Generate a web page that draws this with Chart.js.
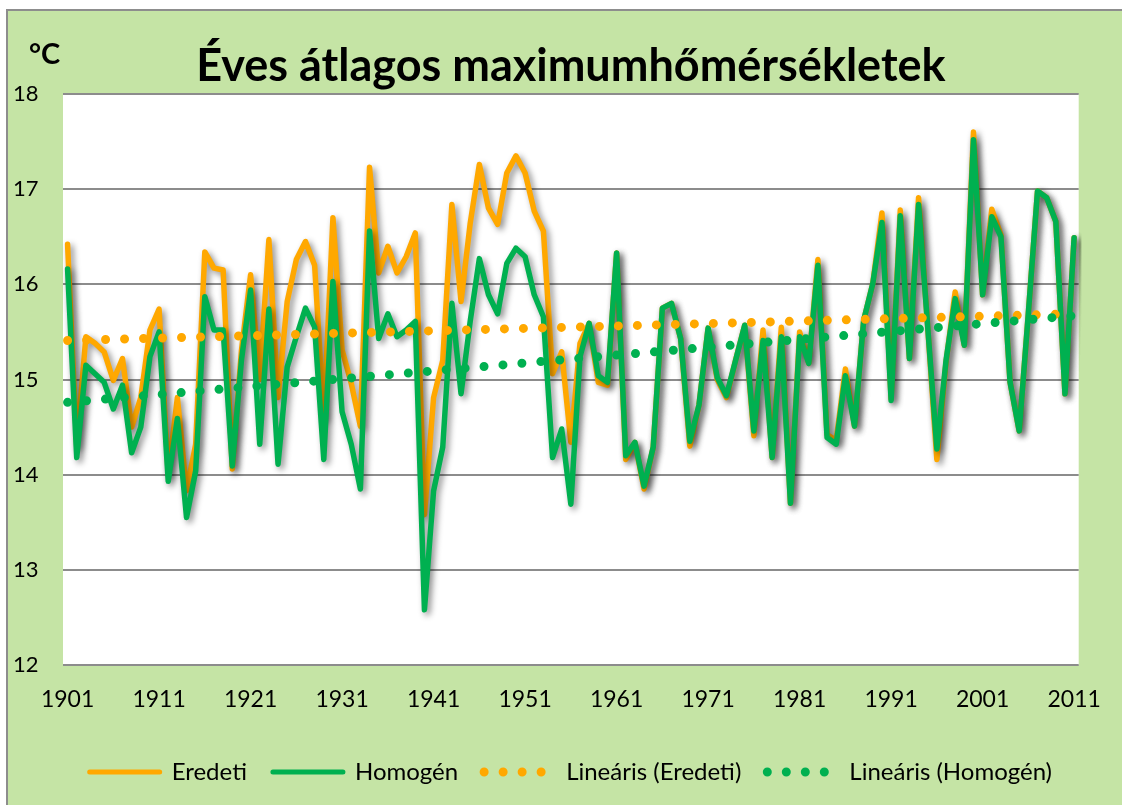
<!DOCTYPE html>
<html lang="hu">
<head>
<meta charset="UTF-8">
<title>Éves átlagos maximumhőmérsékletek</title>
<script src="https://cdn.jsdelivr.net/npm/chart.js"></script>
<style>
  html, body { margin: 0; padding: 0; background: #ffffff; }
  #wrap { width: 1122px; height: 805px; position: relative; }
</style>
</head>
<body>
<div id="wrap"><canvas id="chart" width="1122" height="805"></canvas></div>
<script>
// years on the category axis
const years = [
  '1901','1902','1903','1904','1905','1906','1907','1908','1909','1910',
  '1911','1912','1913','1914','1915','1916','1917','1918','1919','1920',
  '1921','1922','1923','1924','1925','1926','1927','1928','1929','1930',
  '1931','1932','1933','1934','1935','1936','1937','1938','1939','1940',
  '1941','1942','1943','1944','1945','1946','1947','1948','1949','1950',
  '1951','1952','1953','1954','1955','1956','1957','1958','1959','1960',
  '1961','1962','1963','1964','1965','1966','1967','1968','1969','1970',
  '1971','1972','1973','1974','1975','1976','1977','1978','1979','1980',
  '1981','1982','1983','1984','1985','1986','1987','1988','1989','1990',
  '1991','1992','1993','1994','1995','1996','1997','1998','1999','2000',
  '2001','2002','2003','2004','2005','2006','2007','2008','2009','2010',
  '2011'
];
const xTickLabels = ['1901','1911','1921','1931','1941','1951','1961','1971','1981','1991','2001','2011'];

// Eredeti (original) series, °C
const eredeti = [
  16.42, 14.30, 15.45, 15.38, 15.29, 14.99, 15.22, 14.50, 14.81, 15.52,
  15.74, 14.00, 14.81, 13.83, 14.32, 16.34, 16.17, 16.15, 14.06, 15.30,
  16.10, 15.00, 16.47, 14.81, 15.82, 16.26, 16.45, 16.20, 14.60, 16.70,
  15.31, 14.96, 14.51, 17.23, 16.12, 16.40, 16.12, 16.29, 16.54, 13.58,
  14.81, 15.20, 16.84, 15.82, 16.64, 17.26, 16.80, 16.63, 17.17, 17.35,
  17.17, 16.77, 16.56, 15.06, 15.29, 14.34, 15.38, 15.59, 14.97, 14.94,
  16.33, 14.16, 14.34, 13.85, 14.29, 15.75, 15.80, 15.43, 14.30, 14.73,
  15.54, 15.00, 14.81, 15.20, 15.57, 14.41, 15.52, 14.18, 15.55, 13.70,
  15.50, 15.17, 16.26, 14.42, 14.36, 15.11, 14.51, 15.62, 16.01, 16.75,
  14.80, 16.78, 15.22, 16.91, 15.55, 14.16, 15.18, 15.92, 15.36, 17.60,
  15.89, 16.79, 16.52, 14.97, 14.46, 15.70, 16.98, 16.91, 16.66, 14.85,
  16.49
];

// Homogén (homogenised) series, °C
const homogen = [
  16.16, 14.18, 15.15, 15.06, 14.97, 14.69, 14.94, 14.23, 14.50, 15.24,
  15.50, 13.93, 14.59, 13.55, 14.04, 15.87, 15.52, 15.52, 14.09, 15.20,
  15.94, 14.32, 15.74, 14.11, 15.13, 15.45, 15.75, 15.55, 14.16, 16.03,
  14.66, 14.32, 13.85, 16.56, 15.43, 15.69, 15.45, 15.52, 15.61, 12.58,
  13.83, 14.29, 15.80, 14.85, 15.61, 16.27, 15.89, 15.69, 16.22, 16.38,
  16.29, 15.89, 15.66, 14.18, 14.48, 13.69, 15.24, 15.59, 15.04, 14.97,
  16.33, 14.20, 14.34, 13.88, 14.29, 15.75, 15.80, 15.43, 14.35, 14.73,
  15.54, 15.02, 14.83, 15.20, 15.57, 14.46, 15.41, 14.18, 15.45, 13.70,
  15.45, 15.17, 16.20, 14.39, 14.32, 15.04, 14.51, 15.62, 16.01, 16.65,
  14.78, 16.72, 15.22, 16.84, 15.55, 14.27, 15.20, 15.85, 15.36, 17.52,
  15.89, 16.71, 16.50, 14.97, 14.46, 15.70, 16.98, 16.91, 16.66, 14.85,
  16.49
];

// linear trend lines, read at both ends of the period
const trendYears = ['1901', '2011'];
const trendEredeti = [15.41, 15.69];
const trendHomogen = [14.76, 15.67];

const ORANGE = '#ffa800';
const GREEN = '#00b050';
const BG_GREEN = '#c5e4a5';
const FONT = 'Lato, "Open Sans", sans-serif';

const titleText = 'Éves átlagos maximumhőmérsékletek';
const meas = document.createElement('canvas').getContext('2d');
meas.font = 'bold 40px ' + FONT;
const titleSize = Math.round(40 * 748 / meas.measureText(titleText).width);

const backdrop = {
  id: 'backdrop',
  beforeDraw(chart) {
    const ctx = chart.ctx, a = chart.chartArea;
    ctx.save();
    ctx.fillStyle = '#ffffff';
    ctx.fillRect(0, 0, chart.width, chart.height);
    ctx.fillStyle = BG_GREEN;
    ctx.fillRect(7, 10, chart.width - 7, chart.height - 10);
    ctx.strokeStyle = '#8d8d8d';
    ctx.lineWidth = 2;
    ctx.beginPath();
    ctx.moveTo(7, chart.height);
    ctx.lineTo(7, 10);
    ctx.lineTo(chart.width, 10);
    ctx.stroke();
    ctx.fillStyle = '#ffffff';
    ctx.fillRect(a.left, a.top, a.right - a.left, a.bottom - a.top);
    ctx.restore();
  },
  afterDraw(chart) {
    const ctx = chart.ctx;
    ctx.save();
    ctx.fillStyle = '#000000';
    ctx.font = 'bold 29px ' + FONT;
    ctx.textBaseline = 'alphabetic';
    ctx.fillText('°C', 29, 64);
    ctx.restore();
  }
};

// soft drop shadow under the two data lines
const lineShadow = {
  id: 'lineShadow',
  beforeDatasetDraw(chart, args) {
    if (args.index > 1) return;
    const ctx = chart.ctx;
    ctx.save();
    ctx.shadowColor = 'rgba(0,0,0,0.45)';
    ctx.shadowBlur = 6;
    ctx.shadowOffsetX = 3;
    ctx.shadowOffsetY = 3;
  },
  afterDatasetDraw(chart, args) {
    if (args.index > 1) return;
    chart.ctx.restore();
  }
};

new Chart(document.getElementById('chart'), {
  type: 'line',
  data: {
    labels: years,
    datasets: [
      {
        label: 'Eredeti',
        data: eredeti,
        borderColor: ORANGE,
        backgroundColor: ORANGE,
        borderWidth: 5.5,
        borderJoinStyle: 'round',
        borderCapStyle: 'round',
        pointRadius: 0,
        tension: 0,
        order: 4
      },
      {
        label: 'Homogén',
        data: homogen,
        borderColor: GREEN,
        backgroundColor: GREEN,
        borderWidth: 5.5,
        borderJoinStyle: 'round',
        borderCapStyle: 'round',
        pointRadius: 0,
        tension: 0,
        order: 3
      },
      {
        label: 'Lineáris (Eredeti)',
        data: trendYears.map((y, i) => ({ x: y, y: trendEredeti[i] })),
        borderColor: ORANGE,
        backgroundColor: ORANGE,
        borderWidth: 9,
        borderDash: [0, 19],
        borderCapStyle: 'round',
        pointRadius: 0,
        spanGaps: true,
        order: 2
      },
      {
        label: 'Lineáris (Homogén)',
        data: trendYears.map((y, i) => ({ x: y, y: trendHomogen[i] })),
        borderColor: GREEN,
        backgroundColor: GREEN,
        borderWidth: 9,
        borderDash: [0, 19],
        borderCapStyle: 'round',
        pointRadius: 0,
        spanGaps: true,
        order: 1
      }
    ]
  },
  options: {
    responsive: false,
    animation: false,
    events: [],
    layout: { padding: { left: 13, right: 43, top: 10, bottom: 11 } },
    plugins: {
      tooltip: { enabled: false },
      title: {
        display: true,
        text: titleText,
        fullSize: false,
        color: '#000000',
        font: { family: FONT, size: titleSize, weight: 'bold', lineHeight: 1.2 },
        padding: { top: 29, bottom: 1 }
      },
      legend: {
        position: 'bottom',
        fullSize: false,
        labels: {
          usePointStyle: true,
          pointStyle: 'line',
          pointStyleWidth: 70,
          padding: 26,
          color: '#000000',
          font: { family: FONT, size: 24 },
          sort: (a, b) => a.datasetIndex - b.datasetIndex,
          generateLabels(chart) {
            const items = Chart.defaults.plugins.legend.labels.generateLabels(chart);
            items.forEach(it => {
              const ds = chart.data.datasets[it.datasetIndex];
              it.pointStyle = 'line';
              it.lineDash = ds.borderDash || [];
              it.lineCap = ds.borderCapStyle;
              it.lineWidth = ds.borderDash ? 9 : 5;
            });
            return items;
          }
        }
      }
    },
    scales: {
      x: {
        offset: true,
        grid: { display: false, drawTicks: false },
        border: { display: false },
        ticks: {
          autoSkip: false,
          maxRotation: 0,
          padding: 21,
          color: '#000000',
          font: { family: FONT, size: 23 },
          callback: function (v, i) {
            return xTickLabels.includes(years[i]) ? years[i] : '';
          }
        },
        afterFit(scale) { scale.height = 69; }
      },
      y: {
        min: 12,
        max: 18,
        grid: { color: '#8c8c8c', lineWidth: 2, drawTicks: false },
        border: { display: false },
        ticks: {
          stepSize: 1,
          padding: 0,
          crossAlign: 'far',
          color: '#000000',
          font: { family: FONT, size: 22 }
        },
        afterFit(scale) { scale.width = 50; }
      }
    }
  },
  plugins: [backdrop, lineShadow]
});
</script>
</body>
</html>
